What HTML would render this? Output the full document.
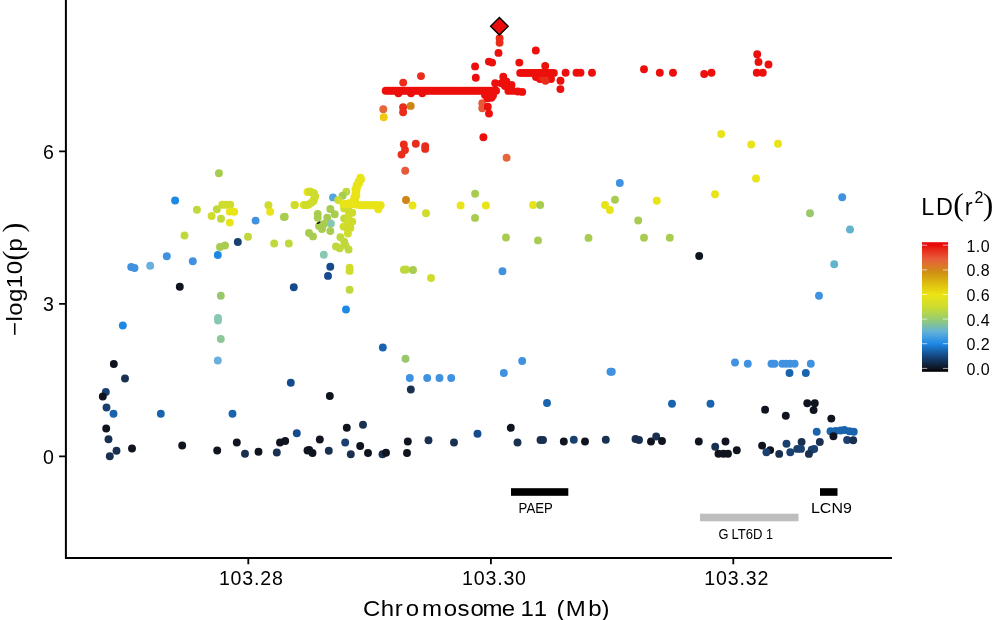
<!DOCTYPE html>
<html><head><meta charset="utf-8"><title>LocusZoom</title>
<style>
html,body{margin:0;padding:0;background:#fff;}
body{width:993px;height:620px;overflow:hidden;position:relative;font-family:"Liberation Sans",sans-serif;color:#000;}
svg{position:absolute;left:0;top:0;will-change:transform;}
text{font-family:"Liberation Sans",sans-serif;fill:#000;}
</style></head><body>
<svg width="993" height="620" viewBox="0 0 993 620">
<defs>
<linearGradient id="ld" x1="0" y1="1" x2="0" y2="0">
<stop offset="0" stop-color="#000000"/>
<stop offset="0.026" stop-color="#0e1420"/>
<stop offset="0.12" stop-color="#14477e"/>
<stop offset="0.216" stop-color="#1e88e5"/>
<stop offset="0.31" stop-color="#62b2d8"/>
<stop offset="0.405" stop-color="#98cc70"/>
<stop offset="0.5" stop-color="#ccdc30"/>
<stop offset="0.597" stop-color="#ece412"/>
<stop offset="0.69" stop-color="#dcb810"/>
<stop offset="0.76" stop-color="#d09412"/>
<stop offset="0.787" stop-color="#d4861c"/>
<stop offset="0.865" stop-color="#e8603c"/>
<stop offset="0.93" stop-color="#e8341e"/>
<stop offset="0.977" stop-color="#e80c0a"/>
<stop offset="1" stop-color="#ea0808"/>
</linearGradient>
</defs>
<rect width="993" height="620" fill="#fff"/>
<!-- points -->
<g>
<circle cx="122.8" cy="325.5" r="3.95" fill="#1e88e5"/>
<circle cx="218.0" cy="318.0" r="3.95" fill="#88c8b0"/>
<circle cx="218.0" cy="320.5" r="3.95" fill="#88c8b0"/>
<circle cx="220.8" cy="339.0" r="3.95" fill="#8cc898"/>
<circle cx="217.8" cy="360.5" r="3.95" fill="#6ab0dc"/>
<circle cx="113.8" cy="364.0" r="3.95" fill="#10141f"/>
<circle cx="125.0" cy="378.5" r="3.95" fill="#1a3050"/>
<circle cx="105.8" cy="392.0" r="3.95" fill="#1a4070"/>
<circle cx="102.8" cy="396.5" r="3.95" fill="#10141f"/>
<circle cx="106.5" cy="407.5" r="3.95" fill="#1a4070"/>
<circle cx="113.5" cy="413.8" r="3.95" fill="#1a64ae"/>
<circle cx="160.8" cy="413.8" r="3.95" fill="#1a64ae"/>
<circle cx="232.5" cy="413.8" r="3.95" fill="#1a64ae"/>
<circle cx="290.8" cy="382.8" r="3.95" fill="#154a8c"/>
<circle cx="106.2" cy="428.5" r="3.95" fill="#10141f"/>
<circle cx="108.5" cy="439.2" r="3.95" fill="#1a3050"/>
<circle cx="116.5" cy="450.8" r="3.95" fill="#1a3050"/>
<circle cx="109.8" cy="456.2" r="3.95" fill="#1a3050"/>
<circle cx="132.0" cy="448.5" r="3.95" fill="#10141f"/>
<circle cx="182.2" cy="445.5" r="3.95" fill="#10141f"/>
<circle cx="217.2" cy="450.5" r="3.95" fill="#10141f"/>
<circle cx="236.8" cy="442.5" r="3.95" fill="#10141f"/>
<circle cx="245.0" cy="453.8" r="3.95" fill="#1a3050"/>
<circle cx="258.5" cy="451.8" r="3.95" fill="#10141f"/>
<circle cx="276.8" cy="452.5" r="3.95" fill="#1a3050"/>
<circle cx="280.0" cy="442.5" r="3.95" fill="#10141f"/>
<circle cx="285.2" cy="441.0" r="3.95" fill="#10141f"/>
<circle cx="296.8" cy="433.2" r="3.95" fill="#154a8c"/>
<circle cx="307.5" cy="450.5" r="3.95" fill="#10141f"/>
<circle cx="218.9" cy="173.2" r="3.95" fill="#a8cc50"/>
<circle cx="175.1" cy="200.5" r="3.95" fill="#1e88e5"/>
<circle cx="196.9" cy="209.7" r="3.95" fill="#c0d83c"/>
<circle cx="184.5" cy="235.5" r="3.95" fill="#c0d83c"/>
<circle cx="222.3" cy="204.7" r="3.95" fill="#d0dc2c"/>
<circle cx="226.0" cy="204.7" r="3.95" fill="#d0dc2c"/>
<circle cx="230.2" cy="204.7" r="3.95" fill="#d0dc2c"/>
<circle cx="216.9" cy="209.3" r="3.95" fill="#c0d83c"/>
<circle cx="211.6" cy="216.0" r="3.95" fill="#d0dc2c"/>
<circle cx="221.0" cy="218.7" r="3.95" fill="#c0d83c"/>
<circle cx="229.8" cy="211.6" r="3.95" fill="#e8e418"/>
<circle cx="234.2" cy="211.8" r="3.95" fill="#e8e418"/>
<circle cx="229.8" cy="222.6" r="3.95" fill="#e8e418"/>
<circle cx="255.6" cy="220.6" r="3.95" fill="#4191e1"/>
<circle cx="268.4" cy="205.3" r="3.95" fill="#d0dc2c"/>
<circle cx="270.1" cy="211.8" r="3.95" fill="#e8e418"/>
<circle cx="283.9" cy="216.9" r="3.95" fill="#a8cc50"/>
<circle cx="248.0" cy="236.7" r="3.95" fill="#c0d83c"/>
<circle cx="294.5" cy="205.0" r="3.95" fill="#e8e418"/>
<circle cx="303.8" cy="205.0" r="3.95" fill="#e8e418"/>
<circle cx="307.5" cy="205.0" r="3.95" fill="#e8e418"/>
<circle cx="307.5" cy="192.0" r="3.95" fill="#e8e418"/>
<circle cx="237.8" cy="242.0" r="3.95" fill="#1a4070"/>
<circle cx="220.0" cy="247.0" r="3.95" fill="#a8cc50"/>
<circle cx="225.0" cy="245.5" r="3.95" fill="#a8cc50"/>
<circle cx="274.2" cy="243.5" r="3.95" fill="#c0d83c"/>
<circle cx="288.8" cy="243.5" r="3.95" fill="#c0d83c"/>
<circle cx="217.8" cy="255.0" r="3.95" fill="#1e88e5"/>
<circle cx="166.8" cy="256.2" r="3.95" fill="#4191e1"/>
<circle cx="192.8" cy="261.2" r="3.95" fill="#4191e1"/>
<circle cx="131.2" cy="267.0" r="3.95" fill="#4191e1"/>
<circle cx="134.5" cy="268.0" r="3.95" fill="#4191e1"/>
<circle cx="150.2" cy="265.8" r="3.95" fill="#6ab0dc"/>
<circle cx="179.8" cy="286.8" r="3.95" fill="#10141f"/>
<circle cx="220.8" cy="295.8" r="3.95" fill="#98c86c"/>
<circle cx="293.8" cy="287.2" r="3.95" fill="#154a8c"/>
<circle cx="284.8" cy="216.8" r="3.95" fill="#a8cc50"/>
<circle cx="294.8" cy="205.0" r="3.95" fill="#d0dc2c"/>
<circle cx="305.2" cy="205.0" r="3.95" fill="#d0dc2c"/>
<circle cx="311.4" cy="202.7" r="3.95" fill="#d0dc2c"/>
<circle cx="314.0" cy="199.0" r="3.95" fill="#d0dc2c"/>
<circle cx="314.0" cy="193.3" r="3.95" fill="#d0dc2c"/>
<circle cx="309.6" cy="191.4" r="3.95" fill="#d0dc2c"/>
<circle cx="330.3" cy="209.0" r="3.95" fill="#a8cc50"/>
<circle cx="334.7" cy="214.3" r="3.95" fill="#a8cc50"/>
<circle cx="327.2" cy="217.8" r="3.95" fill="#a8cc50"/>
<circle cx="317.7" cy="214.0" r="3.95" fill="#a8cc50"/>
<circle cx="317.7" cy="217.8" r="3.95" fill="#a8cc50"/>
<circle cx="330.9" cy="223.5" r="3.95" fill="#88c8b0"/>
<circle cx="319.0" cy="226.0" r="3.95" fill="#a8cc50"/>
<circle cx="322.0" cy="229.0" r="3.95" fill="#a8cc50"/>
<circle cx="324.0" cy="224.0" r="3.95" fill="#a8cc50"/>
<circle cx="330.3" cy="231.0" r="3.95" fill="#a8cc50"/>
<circle cx="309.0" cy="233.0" r="3.95" fill="#a8cc50"/>
<circle cx="313.0" cy="236.4" r="3.95" fill="#a8cc50"/>
<circle cx="333.0" cy="197.4" r="3.95" fill="#52a8dc"/>
<circle cx="346.3" cy="191.8" r="3.95" fill="#c0d83c"/>
<circle cx="342.6" cy="195.7" r="3.95" fill="#a8cc50"/>
<circle cx="338.2" cy="200.1" r="3.95" fill="#d0dc2c"/>
<circle cx="344.2" cy="208.4" r="3.95" fill="#d0dc2c"/>
<circle cx="352.3" cy="212.8" r="3.95" fill="#d0dc2c"/>
<circle cx="344.2" cy="218.5" r="3.95" fill="#c0d83c"/>
<circle cx="352.3" cy="221.6" r="3.95" fill="#d0dc2c"/>
<circle cx="343.5" cy="226.6" r="3.95" fill="#d0dc2c"/>
<circle cx="350.4" cy="227.9" r="3.95" fill="#d0dc2c"/>
<circle cx="347.9" cy="233.6" r="3.95" fill="#d0dc2c"/>
<circle cx="340.4" cy="237.3" r="3.95" fill="#c0d83c"/>
<circle cx="344.2" cy="241.7" r="3.95" fill="#c0d83c"/>
<circle cx="336.0" cy="246.4" r="3.95" fill="#c0d83c"/>
<circle cx="339.7" cy="248.3" r="3.95" fill="#c0d83c"/>
<circle cx="345.4" cy="245.1" r="3.95" fill="#c0d83c"/>
<circle cx="348.6" cy="249.5" r="3.95" fill="#c0d83c"/>
<circle cx="360.5" cy="177.6" r="3.95" fill="#e8e418"/>
<circle cx="358.6" cy="181.4" r="3.95" fill="#e8e418"/>
<circle cx="356.7" cy="185.1" r="3.95" fill="#e8e418"/>
<circle cx="355.5" cy="188.9" r="3.95" fill="#e8e418"/>
<circle cx="355.5" cy="193.3" r="3.95" fill="#e8e418"/>
<circle cx="354.2" cy="197.7" r="3.95" fill="#e8e418"/>
<circle cx="353.0" cy="201.5" r="3.95" fill="#e8e418"/>
<circle cx="378.3" cy="209.2" r="3.95" fill="#e8e418"/>
<circle cx="361.0" cy="179.5" r="3.95" fill="#e8e418"/>
<circle cx="359.0" cy="183.5" r="3.95" fill="#e8e418"/>
<circle cx="357.2" cy="187.2" r="3.95" fill="#e8e418"/>
<circle cx="356.4" cy="191.0" r="3.95" fill="#e8e418"/>
<circle cx="356.4" cy="195.5" r="3.95" fill="#e8e418"/>
<circle cx="355.0" cy="199.5" r="3.95" fill="#e8e418"/>
<circle cx="352.0" cy="203.0" r="3.95" fill="#e8e418"/>
<circle cx="349.0" cy="203.3" r="3.95" fill="#e8e418"/>
<circle cx="356.0" cy="203.5" r="3.95" fill="#e8e418"/>
<circle cx="348.5" cy="210.5" r="3.95" fill="#d0dc2c"/>
<circle cx="348.5" cy="216.0" r="3.95" fill="#d0dc2c"/>
<circle cx="348.0" cy="222.0" r="3.95" fill="#d0dc2c"/>
<circle cx="347.0" cy="228.0" r="3.95" fill="#d0dc2c"/>
<circle cx="311.5" cy="192.2" r="3.95" fill="#d0dc2c"/>
<circle cx="315.2" cy="196.5" r="3.95" fill="#d0dc2c"/>
<circle cx="313.5" cy="201.0" r="3.95" fill="#d0dc2c"/>
<circle cx="308.6" cy="204.4" r="3.95" fill="#d0dc2c"/>
<circle cx="323.8" cy="254.8" r="3.95" fill="#88c8b0"/>
<circle cx="330.3" cy="266.8" r="3.95" fill="#154a8c"/>
<circle cx="328.0" cy="275.9" r="3.95" fill="#154a8c"/>
<circle cx="349.6" cy="267.8" r="3.95" fill="#d0dc2c"/>
<circle cx="349.6" cy="270.9" r="3.95" fill="#d0dc2c"/>
<circle cx="349.6" cy="289.8" r="3.95" fill="#c0d83c"/>
<circle cx="346.0" cy="309.5" r="3.95" fill="#1e88e5"/>
<circle cx="343.3" cy="204.0" r="3.95" fill="#e8e418"/>
<circle cx="345.5" cy="204.0" r="3.95" fill="#e8e418"/>
<circle cx="347.7" cy="204.0" r="3.95" fill="#e8e418"/>
<circle cx="349.9" cy="204.0" r="3.95" fill="#e8e418"/>
<circle cx="352.1" cy="204.0" r="3.95" fill="#e8e418"/>
<circle cx="354.3" cy="204.3" r="3.95" fill="#e8e418"/>
<circle cx="356.5" cy="204.6" r="3.95" fill="#e8e418"/>
<circle cx="358.7" cy="204.9" r="3.95" fill="#e8e418"/>
<circle cx="360.9" cy="205.2" r="3.95" fill="#e8e418"/>
<circle cx="363.1" cy="205.3" r="3.95" fill="#e8e418"/>
<circle cx="365.3" cy="205.3" r="3.95" fill="#e8e418"/>
<circle cx="367.5" cy="205.3" r="3.95" fill="#e8e418"/>
<circle cx="369.7" cy="205.3" r="3.95" fill="#e8e418"/>
<circle cx="371.9" cy="205.3" r="3.95" fill="#e8e418"/>
<circle cx="374.1" cy="205.3" r="3.95" fill="#e8e418"/>
<circle cx="376.3" cy="205.3" r="3.95" fill="#e8e418"/>
<circle cx="378.5" cy="205.3" r="3.95" fill="#e8e418"/>
<circle cx="380.7" cy="205.3" r="3.95" fill="#e8e418"/>
<circle cx="406.0" cy="200.0" r="3.95" fill="#d08414"/>
<circle cx="412.5" cy="205.5" r="3.95" fill="#e8e418"/>
<circle cx="426.0" cy="213.2" r="3.95" fill="#d0dc2c"/>
<circle cx="460.6" cy="205.4" r="3.95" fill="#e8e418"/>
<circle cx="485.9" cy="205.4" r="3.95" fill="#e8e418"/>
<circle cx="475.1" cy="193.8" r="3.95" fill="#a8cc50"/>
<circle cx="475.0" cy="217.9" r="3.95" fill="#a8cc50"/>
<circle cx="533.1" cy="205.0" r="3.95" fill="#e8e418"/>
<circle cx="540.2" cy="205.0" r="3.95" fill="#a8cc50"/>
<circle cx="506.0" cy="237.5" r="3.95" fill="#a8cc50"/>
<circle cx="538.0" cy="240.4" r="3.95" fill="#a8cc50"/>
<circle cx="502.5" cy="271.2" r="3.95" fill="#4191e1"/>
<circle cx="406.0" cy="269.5" r="3.95" fill="#c0d83c"/>
<circle cx="413.0" cy="270.0" r="3.95" fill="#a8cc50"/>
<circle cx="431.0" cy="278.0" r="3.95" fill="#d0dc2c"/>
<circle cx="403.9" cy="269.7" r="3.95" fill="#c0d83c"/>
<circle cx="588.5" cy="237.9" r="3.95" fill="#a8cc50"/>
<circle cx="605.0" cy="205.0" r="3.95" fill="#e8e418"/>
<circle cx="609.9" cy="210.0" r="3.95" fill="#e8e418"/>
<circle cx="615.0" cy="199.8" r="3.95" fill="#a8cc50"/>
<circle cx="619.8" cy="183.0" r="3.95" fill="#4191e1"/>
<circle cx="656.8" cy="200.8" r="3.95" fill="#e8e418"/>
<circle cx="715.0" cy="194.2" r="3.95" fill="#e8e418"/>
<circle cx="756.0" cy="178.5" r="3.95" fill="#e8e418"/>
<circle cx="638.2" cy="220.5" r="3.95" fill="#a8cc50"/>
<circle cx="644.0" cy="237.8" r="3.95" fill="#a8cc50"/>
<circle cx="669.8" cy="237.8" r="3.95" fill="#a8cc50"/>
<circle cx="699.2" cy="256.0" r="3.95" fill="#10141f"/>
<circle cx="721.2" cy="134.0" r="3.95" fill="#e8e418"/>
<circle cx="751.2" cy="144.5" r="3.95" fill="#e8e418"/>
<circle cx="778.0" cy="143.8" r="3.95" fill="#e8e418"/>
<circle cx="842.2" cy="197.2" r="3.95" fill="#4191e1"/>
<circle cx="810.0" cy="213.2" r="3.95" fill="#98c86c"/>
<circle cx="850.0" cy="229.5" r="3.95" fill="#62b4cc"/>
<circle cx="834.2" cy="264.2" r="3.95" fill="#62b4cc"/>
<circle cx="819.0" cy="295.8" r="3.95" fill="#4191e1"/>
<circle cx="403.2" cy="82.6" r="3.95" fill="#ea2c1a"/>
<circle cx="421.0" cy="76.1" r="3.95" fill="#ea2c1a"/>
<circle cx="475.1" cy="66.4" r="3.95" fill="#ec0f0c"/>
<circle cx="475.8" cy="77.7" r="3.95" fill="#ec0f0c"/>
<circle cx="398.4" cy="93.3" r="3.95" fill="#ec0f0c"/>
<circle cx="411.0" cy="93.3" r="3.95" fill="#ec0f0c"/>
<circle cx="422.3" cy="93.3" r="3.95" fill="#ec0f0c"/>
<circle cx="383.3" cy="109.3" r="3.95" fill="#e4663a"/>
<circle cx="383.7" cy="117.3" r="3.95" fill="#f0c810"/>
<circle cx="403.1" cy="107.2" r="3.95" fill="#ea2c1a"/>
<circle cx="403.1" cy="112.2" r="3.95" fill="#ea2c1a"/>
<circle cx="410.7" cy="105.9" r="3.95" fill="#d08414"/>
<circle cx="482.3" cy="103.2" r="3.95" fill="#e8583a"/>
<circle cx="482.3" cy="108.2" r="3.95" fill="#e8583a"/>
<circle cx="487.8" cy="106.8" r="3.95" fill="#ec0f0c"/>
<circle cx="489.0" cy="113.6" r="3.95" fill="#ec0f0c"/>
<circle cx="488.9" cy="95.3" r="3.95" fill="#ec0f0c"/>
<circle cx="491.4" cy="97.8" r="3.95" fill="#ec0f0c"/>
<circle cx="485.0" cy="95.0" r="3.95" fill="#ec0f0c"/>
<circle cx="487.6" cy="98.2" r="3.95" fill="#ec0f0c"/>
<circle cx="493.0" cy="95.5" r="3.95" fill="#ec0f0c"/>
<circle cx="483.4" cy="137.3" r="3.95" fill="#ec0f0c"/>
<circle cx="403.8" cy="144.5" r="3.95" fill="#ea2c1a"/>
<circle cx="405.0" cy="150.0" r="3.95" fill="#ea2c1a"/>
<circle cx="401.5" cy="154.6" r="3.95" fill="#ea2c1a"/>
<circle cx="415.8" cy="143.8" r="3.95" fill="#ea2c1a"/>
<circle cx="425.2" cy="146.2" r="3.95" fill="#ea2c1a"/>
<circle cx="425.2" cy="148.9" r="3.95" fill="#ea2c1a"/>
<circle cx="405.2" cy="170.8" r="3.95" fill="#e8583a"/>
<circle cx="506.6" cy="157.7" r="3.95" fill="#e4663a"/>
<circle cx="499.6" cy="38.3" r="3.95" fill="#ea2c1a"/>
<circle cx="499.6" cy="42.7" r="3.95" fill="#ea2c1a"/>
<circle cx="498.5" cy="52.9" r="3.95" fill="#ec0f0c"/>
<circle cx="488.9" cy="61.6" r="3.95" fill="#ec0f0c"/>
<circle cx="492.1" cy="62.6" r="3.95" fill="#ec0f0c"/>
<circle cx="535.8" cy="50.5" r="3.95" fill="#ec0f0c"/>
<circle cx="519.3" cy="62.6" r="3.95" fill="#ec0f0c"/>
<circle cx="545.2" cy="66.0" r="3.95" fill="#ec0f0c"/>
<circle cx="565.6" cy="72.7" r="3.95" fill="#ec0f0c"/>
<circle cx="576.5" cy="72.7" r="3.95" fill="#ec0f0c"/>
<circle cx="580.5" cy="72.7" r="3.95" fill="#ec0f0c"/>
<circle cx="592.0" cy="72.7" r="3.95" fill="#ec0f0c"/>
<circle cx="560.5" cy="80.7" r="3.95" fill="#ec0f0c"/>
<circle cx="560.4" cy="89.1" r="3.95" fill="#ec0f0c"/>
<circle cx="536.0" cy="77.0" r="3.95" fill="#ec0f0c"/>
<circle cx="551.0" cy="79.0" r="3.95" fill="#ec0f0c"/>
<circle cx="540.0" cy="79.0" r="3.95" fill="#ec0f0c"/>
<circle cx="543.0" cy="77.7" r="3.95" fill="#ea2c1a"/>
<circle cx="545.5" cy="80.8" r="3.95" fill="#ea2c1a"/>
<circle cx="503.3" cy="76.7" r="3.95" fill="#ec0f0c"/>
<circle cx="495.2" cy="83.3" r="3.95" fill="#ec0f0c"/>
<circle cx="501.4" cy="83.3" r="3.95" fill="#ec0f0c"/>
<circle cx="506.5" cy="81.4" r="3.95" fill="#ec0f0c"/>
<circle cx="511.5" cy="85.0" r="3.95" fill="#ec0f0c"/>
<circle cx="505.0" cy="86.0" r="3.95" fill="#ec0f0c"/>
<circle cx="508.4" cy="90.9" r="3.95" fill="#ec0f0c"/>
<circle cx="512.8" cy="90.9" r="3.95" fill="#ec0f0c"/>
<circle cx="517.8" cy="91.5" r="3.95" fill="#ec0f0c"/>
<circle cx="522.2" cy="91.9" r="3.95" fill="#ec0f0c"/>
<circle cx="644.0" cy="69.2" r="3.95" fill="#ec0f0c"/>
<circle cx="659.8" cy="72.8" r="3.95" fill="#ec0f0c"/>
<circle cx="673.0" cy="72.8" r="3.95" fill="#ec0f0c"/>
<circle cx="704.2" cy="74.0" r="3.95" fill="#ec0f0c"/>
<circle cx="711.5" cy="72.8" r="3.95" fill="#ec0f0c"/>
<circle cx="757.2" cy="54.2" r="3.95" fill="#ec0f0c"/>
<circle cx="758.5" cy="62.0" r="3.95" fill="#ec0f0c"/>
<circle cx="768.5" cy="64.5" r="3.95" fill="#ec0f0c"/>
<circle cx="756.8" cy="72.8" r="3.95" fill="#ec0f0c"/>
<circle cx="762.8" cy="72.8" r="3.95" fill="#ec0f0c"/>
<circle cx="385.7" cy="90.7" r="3.95" fill="#ec0f0c"/>
<circle cx="388.1" cy="90.7" r="3.95" fill="#ec0f0c"/>
<circle cx="390.5" cy="90.7" r="3.95" fill="#ec0f0c"/>
<circle cx="392.9" cy="90.7" r="3.95" fill="#ec0f0c"/>
<circle cx="395.3" cy="90.7" r="3.95" fill="#ec0f0c"/>
<circle cx="397.7" cy="90.7" r="3.95" fill="#ec0f0c"/>
<circle cx="400.1" cy="90.7" r="3.95" fill="#ec0f0c"/>
<circle cx="402.5" cy="90.7" r="3.95" fill="#ec0f0c"/>
<circle cx="404.9" cy="90.7" r="3.95" fill="#ec0f0c"/>
<circle cx="407.3" cy="90.7" r="3.95" fill="#ec0f0c"/>
<circle cx="409.7" cy="90.7" r="3.95" fill="#ec0f0c"/>
<circle cx="412.1" cy="90.7" r="3.95" fill="#ec0f0c"/>
<circle cx="414.5" cy="90.7" r="3.95" fill="#ec0f0c"/>
<circle cx="416.9" cy="90.7" r="3.95" fill="#ec0f0c"/>
<circle cx="419.3" cy="90.7" r="3.95" fill="#ec0f0c"/>
<circle cx="421.7" cy="90.7" r="3.95" fill="#ec0f0c"/>
<circle cx="424.1" cy="90.7" r="3.95" fill="#ec0f0c"/>
<circle cx="426.5" cy="90.7" r="3.95" fill="#ec0f0c"/>
<circle cx="428.9" cy="90.7" r="3.95" fill="#ec0f0c"/>
<circle cx="431.3" cy="90.7" r="3.95" fill="#ec0f0c"/>
<circle cx="433.7" cy="90.7" r="3.95" fill="#ec0f0c"/>
<circle cx="436.1" cy="90.7" r="3.95" fill="#ec0f0c"/>
<circle cx="438.5" cy="90.7" r="3.95" fill="#ec0f0c"/>
<circle cx="440.9" cy="90.7" r="3.95" fill="#ec0f0c"/>
<circle cx="443.3" cy="90.7" r="3.95" fill="#ec0f0c"/>
<circle cx="445.7" cy="90.7" r="3.95" fill="#ec0f0c"/>
<circle cx="448.1" cy="90.7" r="3.95" fill="#ec0f0c"/>
<circle cx="450.5" cy="90.7" r="3.95" fill="#ec0f0c"/>
<circle cx="452.9" cy="90.7" r="3.95" fill="#ec0f0c"/>
<circle cx="455.3" cy="90.7" r="3.95" fill="#ec0f0c"/>
<circle cx="457.7" cy="90.7" r="3.95" fill="#ec0f0c"/>
<circle cx="460.1" cy="90.7" r="3.95" fill="#ec0f0c"/>
<circle cx="462.5" cy="90.7" r="3.95" fill="#ec0f0c"/>
<circle cx="464.9" cy="90.7" r="3.95" fill="#ec0f0c"/>
<circle cx="467.3" cy="90.7" r="3.95" fill="#ec0f0c"/>
<circle cx="469.7" cy="90.7" r="3.95" fill="#ec0f0c"/>
<circle cx="472.1" cy="90.7" r="3.95" fill="#ec0f0c"/>
<circle cx="474.5" cy="90.7" r="3.95" fill="#ec0f0c"/>
<circle cx="476.9" cy="90.7" r="3.95" fill="#ec0f0c"/>
<circle cx="479.3" cy="90.7" r="3.95" fill="#ec0f0c"/>
<circle cx="481.7" cy="90.7" r="3.95" fill="#ec0f0c"/>
<circle cx="484.1" cy="90.7" r="3.95" fill="#ec0f0c"/>
<circle cx="486.5" cy="90.7" r="3.95" fill="#ec0f0c"/>
<circle cx="488.9" cy="90.7" r="3.95" fill="#ec0f0c"/>
<circle cx="491.3" cy="90.7" r="3.95" fill="#ec0f0c"/>
<circle cx="493.7" cy="90.7" r="3.95" fill="#ec0f0c"/>
<circle cx="496.1" cy="90.7" r="3.95" fill="#ec0f0c"/>
<circle cx="520.2" cy="72.9" r="3.95" fill="#ec0f0c"/>
<circle cx="522.6" cy="72.9" r="3.95" fill="#ec0f0c"/>
<circle cx="525.0" cy="72.9" r="3.95" fill="#ec0f0c"/>
<circle cx="527.4" cy="72.9" r="3.95" fill="#ec0f0c"/>
<circle cx="529.8" cy="72.9" r="3.95" fill="#ec0f0c"/>
<circle cx="532.2" cy="72.9" r="3.95" fill="#ec0f0c"/>
<circle cx="534.6" cy="72.9" r="3.95" fill="#ec0f0c"/>
<circle cx="537.0" cy="72.9" r="3.95" fill="#ec0f0c"/>
<circle cx="539.4" cy="72.9" r="3.95" fill="#ec0f0c"/>
<circle cx="541.8" cy="72.9" r="3.95" fill="#ec0f0c"/>
<circle cx="544.2" cy="72.9" r="3.95" fill="#ec0f0c"/>
<circle cx="546.6" cy="72.9" r="3.95" fill="#ec0f0c"/>
<circle cx="549.0" cy="72.9" r="3.95" fill="#ec0f0c"/>
<circle cx="551.4" cy="72.9" r="3.95" fill="#ec0f0c"/>
<circle cx="553.8" cy="72.9" r="3.95" fill="#ec0f0c"/>
<circle cx="382.8" cy="347.5" r="3.95" fill="#1a64ae"/>
<circle cx="405.5" cy="358.8" r="3.95" fill="#98c86c"/>
<circle cx="409.8" cy="378.0" r="3.95" fill="#4191e1"/>
<circle cx="427.2" cy="378.0" r="3.95" fill="#4191e1"/>
<circle cx="439.5" cy="378.0" r="3.95" fill="#4191e1"/>
<circle cx="451.2" cy="378.0" r="3.95" fill="#4191e1"/>
<circle cx="410.8" cy="389.5" r="3.95" fill="#1a3050"/>
<circle cx="503.8" cy="373.0" r="3.95" fill="#4191e1"/>
<circle cx="522.2" cy="361.0" r="3.95" fill="#4191e1"/>
<circle cx="547.0" cy="403.0" r="3.95" fill="#1a64ae"/>
<circle cx="329.8" cy="396.0" r="3.95" fill="#10141f"/>
<circle cx="346.8" cy="427.8" r="3.95" fill="#10141f"/>
<circle cx="363.0" cy="424.8" r="3.95" fill="#1a3050"/>
<circle cx="319.8" cy="439.5" r="3.95" fill="#10141f"/>
<circle cx="345.2" cy="442.5" r="3.95" fill="#1a4070"/>
<circle cx="360.2" cy="446.0" r="3.95" fill="#10141f"/>
<circle cx="309.2" cy="450.0" r="3.95" fill="#10141f"/>
<circle cx="312.5" cy="453.0" r="3.95" fill="#10141f"/>
<circle cx="328.8" cy="450.8" r="3.95" fill="#1a3050"/>
<circle cx="350.8" cy="454.2" r="3.95" fill="#1a3050"/>
<circle cx="368.0" cy="453.0" r="3.95" fill="#10141f"/>
<circle cx="382.5" cy="454.2" r="3.95" fill="#1a3050"/>
<circle cx="386.0" cy="452.8" r="3.95" fill="#10141f"/>
<circle cx="407.0" cy="453.0" r="3.95" fill="#10141f"/>
<circle cx="407.8" cy="441.5" r="3.95" fill="#10141f"/>
<circle cx="428.5" cy="440.2" r="3.95" fill="#1a3050"/>
<circle cx="454.0" cy="442.5" r="3.95" fill="#1a3050"/>
<circle cx="477.5" cy="433.8" r="3.95" fill="#154a8c"/>
<circle cx="510.8" cy="427.8" r="3.95" fill="#10141f"/>
<circle cx="517.5" cy="442.5" r="3.95" fill="#1a3050"/>
<circle cx="540.5" cy="440.0" r="3.95" fill="#1a3050"/>
<circle cx="543.0" cy="440.0" r="3.95" fill="#1a3050"/>
<circle cx="610.5" cy="371.7" r="3.95" fill="#4191e1"/>
<circle cx="611.8" cy="371.7" r="3.95" fill="#4191e1"/>
<circle cx="735.0" cy="362.5" r="3.95" fill="#4191e1"/>
<circle cx="747.8" cy="363.8" r="3.95" fill="#4191e1"/>
<circle cx="771.5" cy="363.8" r="3.95" fill="#4191e1"/>
<circle cx="774.5" cy="363.8" r="3.95" fill="#4191e1"/>
<circle cx="782.3" cy="363.8" r="3.95" fill="#4191e1"/>
<circle cx="786.1" cy="363.8" r="3.95" fill="#4191e1"/>
<circle cx="790.0" cy="363.8" r="3.95" fill="#4191e1"/>
<circle cx="794.6" cy="363.8" r="3.95" fill="#4191e1"/>
<circle cx="810.8" cy="363.8" r="3.95" fill="#4191e1"/>
<circle cx="789.5" cy="373.0" r="3.95" fill="#1a64ae"/>
<circle cx="805.8" cy="373.0" r="3.95" fill="#1a64ae"/>
<circle cx="672.0" cy="403.8" r="3.95" fill="#1a64ae"/>
<circle cx="710.5" cy="403.8" r="3.95" fill="#1a64ae"/>
<circle cx="563.8" cy="441.5" r="3.95" fill="#10141f"/>
<circle cx="573.8" cy="439.8" r="3.95" fill="#1a4070"/>
<circle cx="585.0" cy="441.5" r="3.95" fill="#10141f"/>
<circle cx="605.8" cy="439.8" r="3.95" fill="#1a3050"/>
<circle cx="635.5" cy="439.0" r="3.95" fill="#1a3050"/>
<circle cx="639.0" cy="440.0" r="3.95" fill="#1a3050"/>
<circle cx="651.0" cy="441.5" r="3.95" fill="#10141f"/>
<circle cx="656.2" cy="436.5" r="3.95" fill="#1a3050"/>
<circle cx="662.0" cy="441.0" r="3.95" fill="#10141f"/>
<circle cx="698.8" cy="441.5" r="3.95" fill="#10141f"/>
<circle cx="715.2" cy="446.8" r="3.95" fill="#1a3050"/>
<circle cx="725.5" cy="441.5" r="3.95" fill="#10141f"/>
<circle cx="718.5" cy="453.8" r="3.95" fill="#10141f"/>
<circle cx="723.5" cy="453.8" r="3.95" fill="#10141f"/>
<circle cx="728.0" cy="453.8" r="3.95" fill="#10141f"/>
<circle cx="736.8" cy="450.2" r="3.95" fill="#10141f"/>
<circle cx="765.1" cy="409.7" r="3.95" fill="#10141f"/>
<circle cx="785.8" cy="415.8" r="3.95" fill="#10141f"/>
<circle cx="807.3" cy="403.2" r="3.95" fill="#10141f"/>
<circle cx="814.8" cy="403.2" r="3.95" fill="#10141f"/>
<circle cx="813.6" cy="410.1" r="3.95" fill="#10141f"/>
<circle cx="831.3" cy="418.6" r="3.95" fill="#10141f"/>
<circle cx="816.7" cy="431.8" r="3.95" fill="#1a64ae"/>
<circle cx="830.5" cy="431.3" r="3.95" fill="#1a64ae"/>
<circle cx="835.6" cy="430.9" r="3.95" fill="#1a64ae"/>
<circle cx="840.6" cy="430.5" r="3.95" fill="#1a64ae"/>
<circle cx="844.4" cy="430.0" r="3.95" fill="#1a64ae"/>
<circle cx="849.4" cy="431.3" r="3.95" fill="#1a64ae"/>
<circle cx="853.8" cy="431.8" r="3.95" fill="#1a64ae"/>
<circle cx="833.4" cy="436.2" r="3.95" fill="#10141f"/>
<circle cx="847.1" cy="440.0" r="3.95" fill="#1a4070"/>
<circle cx="853.2" cy="440.3" r="3.95" fill="#1a3050"/>
<circle cx="819.8" cy="442.0" r="3.95" fill="#1a3050"/>
<circle cx="801.6" cy="442.0" r="3.95" fill="#1a3050"/>
<circle cx="786.5" cy="443.8" r="3.95" fill="#1a4070"/>
<circle cx="762.1" cy="445.6" r="3.95" fill="#10141f"/>
<circle cx="770.2" cy="450.1" r="3.95" fill="#10141f"/>
<circle cx="766.4" cy="452.3" r="3.95" fill="#1a4070"/>
<circle cx="779.2" cy="453.9" r="3.95" fill="#1a3050"/>
<circle cx="790.3" cy="452.3" r="3.95" fill="#1a4070"/>
<circle cx="797.2" cy="448.9" r="3.95" fill="#1a4070"/>
<circle cx="801.0" cy="448.9" r="3.95" fill="#1a4070"/>
<circle cx="814.2" cy="448.9" r="3.95" fill="#1a4070"/>
<circle cx="811.7" cy="449.7" r="3.95" fill="#1a4070"/>
<circle cx="808.9" cy="453.9" r="3.95" fill="#1a3050"/>
</g>
<ellipse cx="318.7" cy="222.7" rx="2.2" ry="0.9" fill="#0a0e14" transform="rotate(-28 318.7 222.7)"/>
<!-- lead SNP -->
<path d="M499.4 17.5 L508.2 26.3 L499.4 35.1 L490.6 26.3 Z" fill="#ea0c0a" stroke="#000" stroke-width="1.4" stroke-linejoin="miter"/>
<!-- genes -->
<rect x="511" y="488.2" width="57.3" height="7.6" fill="#000"/>
<rect x="820" y="488.2" width="17.5" height="7.6" fill="#000"/>
<rect x="700" y="513.7" width="98.5" height="7.6" fill="#bebebe"/>
<text x="518.6" y="513.3" font-size="14.5" textLength="34.2" lengthAdjust="spacingAndGlyphs">PAEP</text>
<text x="811" y="513" font-size="14.5" textLength="40.8" lengthAdjust="spacingAndGlyphs">LCN9</text>
<text x="718.4" y="538.8" font-size="14.5" textLength="10" lengthAdjust="spacingAndGlyphs">G</text>
<text x="731.4" y="538.8" font-size="14.5" textLength="31" lengthAdjust="spacingAndGlyphs">LT6D</text>
<text x="766" y="538.8" font-size="14.5" textLength="7" lengthAdjust="spacingAndGlyphs">1</text>
<!-- axes -->
<path d="M65.9 0 V558.9 M64.9 557.95 H892" fill="none" stroke="#000" stroke-width="2"/>
<path d="M59.1 151.3 H65.9 M59.1 303.9 H65.9 M59.1 456.4 H65.9 M248.3 558 V564.2 M490.9 558 V564.2 M733.3 558 V564.2" fill="none" stroke="#000" stroke-width="1.8"/>
<text x="43" y="159" font-size="19.6">6</text>
<text x="43" y="311.3" font-size="19.6">3</text>
<text x="43" y="464" font-size="19.6">0</text>
<text x="218.9" y="585.2" font-size="19.6" textLength="64" lengthAdjust="spacing">103.28</text>
<text x="462.0" y="585.2" font-size="19.6" textLength="64" lengthAdjust="spacing">103.30</text>
<text x="704.3" y="585.2" font-size="19.6" textLength="64" lengthAdjust="spacing">103.32</text>
<text x="362.9 380.8 394.7 405.7 422.0 443.7 457.5 470.5 482.4 501.8 511.8 520.4 533.8 543.8 556.6 565.8 588.2 601.6" y="0" font-size="24" transform="translate(0 615.7) scale(1 0.93)">Chromosome 11 (Mb)</text>
<g transform="translate(22.4 336) rotate(-90) scale(1 0.93)">
<text x="0" y="0" font-size="24" textLength="75" lengthAdjust="spacing">&#8722;log10</text>
<text x="84.6" y="0" font-size="24">p</text>
</g>
<g transform="translate(22.4 336) rotate(-90)" style="font-family:'Liberation Serif',serif">
<text x="75.4" y="0.2" font-size="29.7" style="font-family:'Liberation Serif',serif">(</text>
<text x="103.6" y="0.2" font-size="29.7" style="font-family:'Liberation Serif',serif">)</text>
</g>
<!-- legend -->
<text x="921.2" y="215" font-size="23.4">L</text>
<text x="935.9" y="215" font-size="23.4">D</text>
<text x="953.2" y="215.3" font-size="31.6" font-family="Liberation Serif" style="font-family:'Liberation Serif',serif">(</text>
<text x="964.8" y="215" font-size="23.4">r</text>
<text x="974.4" y="202.5" font-size="16">2</text>
<text x="982.8" y="215.3" font-size="31.6" font-family="Liberation Serif" style="font-family:'Liberation Serif',serif">)</text>
<rect x="922" y="242.2" width="26.1" height="129.6" fill="url(#ld)"/>
<path d="M922 245.2h5.2M942.9 245.2h5.2M922 269.9h5.2M942.9 269.9h5.2M922 294.5h5.2M942.9 294.5h5.2M922 319.1h5.2M942.9 319.1h5.2M922 343.7h5.2M942.9 343.7h5.2M922 368.4h5.2M942.9 368.4h5.2" stroke="#fff" stroke-width="0.8" stroke-opacity="0.8" fill="none"/>
<g font-size="16">
<text x="966.5" y="251.7" textLength="23.2" lengthAdjust="spacing">1.0</text>
<text x="966.5" y="276.4" textLength="23.2" lengthAdjust="spacing">0.8</text>
<text x="966.5" y="301.0" textLength="23.2" lengthAdjust="spacing">0.6</text>
<text x="966.5" y="325.6" textLength="23.2" lengthAdjust="spacing">0.4</text>
<text x="966.5" y="350.2" textLength="23.2" lengthAdjust="spacing">0.2</text>
<text x="966.5" y="374.9" textLength="23.2" lengthAdjust="spacing">0.0</text>
</g>
</svg>
</body></html>
